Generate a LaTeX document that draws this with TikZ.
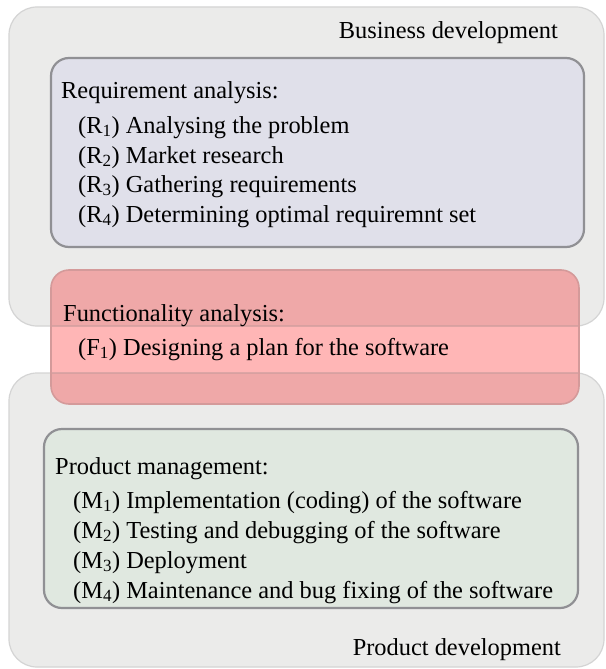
\documentclass[tikz,border=0pt]{standalone}
\usepackage{fontspec}
\setmainfont{Liberation Serif}
\definecolor{areafill}{HTML}{EBEBEA}
\definecolor{arealine}{HTML}{D4D4D4}
\definecolor{reqfill}{HTML}{E0E0EA}
\definecolor{mgmtfill}{HTML}{E0E8E0}
\definecolor{taskline}{HTML}{909094}
\definecolor{funcfill}{HTML}{FFB6B6}
\definecolor{funcover}{HTML}{EFA8A8}
\definecolor{funcoverline}{HTML}{CC9C9C}
\definecolor{funcline}{HTML}{D49A9A}
\begin{document}
\begin{tikzpicture}[x=1pt,y=-1pt,
  area/.style={fill=areafill,draw=arealine,line width=1.2pt,rounded corners=28pt},
  taskbox/.style={draw=taskline,line width=2.2pt,rounded corners=18pt},
  txt/.style={anchor=base west,inner sep=0pt,font=\fontsize{24.4}{28}\selectfont},
  rtxt/.style={txt,anchor=base east}]
\useasboundingbox (0,0) rectangle (605,669);
\fill[white] (0,0) rectangle (605,669);

% the two development areas
\begin{scope}
  \clip (0,0) rectangle (605,669);
  \path[area] (9,7) rectangle (604,326);
  \path[area] (9,373) rectangle (604,667);
\end{scope}
\node[rtxt] (bizlbl) at (558,39) {Business development};
\node[rtxt] (prodlbl) at (561,655) {Product development};

% requirement analysis
\path[taskbox,fill=reqfill] (51,58) rectangle (584,247);
\node[txt] (reqhead) at (61,98) {Requirement analysis:};
\node[txt] (r1) at (78,133) {(R\textsubscript{1}) Analysing the problem};
\node[txt] (r2) at (78,163) {(R\textsubscript{2}) Market research};
\node[txt] (r3) at (78,192) {(R\textsubscript{3}) Gathering requirements};
\node[txt] (r4) at (78,222) {(R\textsubscript{4}) Determining optimal requiremnt set};

% functionality analysis, lying across both areas
\fill[funcfill,rounded corners=18pt] (51,270) rectangle (579,404);
\begin{scope}
  \clip[rounded corners=18pt] (51,270) rectangle (579,404);
  \fill[funcover,rounded corners=28pt] (9,7) rectangle (604,326);
  \fill[funcover,rounded corners=28pt] (9,373) rectangle (604,667);
  \draw[funcoverline,line width=1.2pt,rounded corners=28pt] (9,7) rectangle (604,326);
  \draw[funcoverline,line width=1.2pt,rounded corners=28pt] (9,373) rectangle (604,667);
\end{scope}
\draw[funcline,line width=1.6pt,rounded corners=18pt] (51,270) rectangle (579,404);
\node[txt] (funchead) at (63,321) {Functionality analysis:};
\node[txt] (f1) at (78,355) {(F\textsubscript{1}) Designing a plan for the software};

% product management
\path[taskbox,fill=mgmtfill] (44,429) rectangle (578,608);
\node[txt] (mgmthead) at (55,474) {Product management:};
\node[txt] (m1) at (73,508) {(M\textsubscript{1}) Implementation (coding) of the software};
\node[txt] (m2) at (73,538) {(M\textsubscript{2}) Testing and debugging of the software};
\node[txt] (m3) at (73,568) {(M\textsubscript{3}) Deployment};
\node[txt] (m4) at (73,598) {(M\textsubscript{4}) Maintenance and bug fixing of the software};
\end{tikzpicture}
\end{document}
